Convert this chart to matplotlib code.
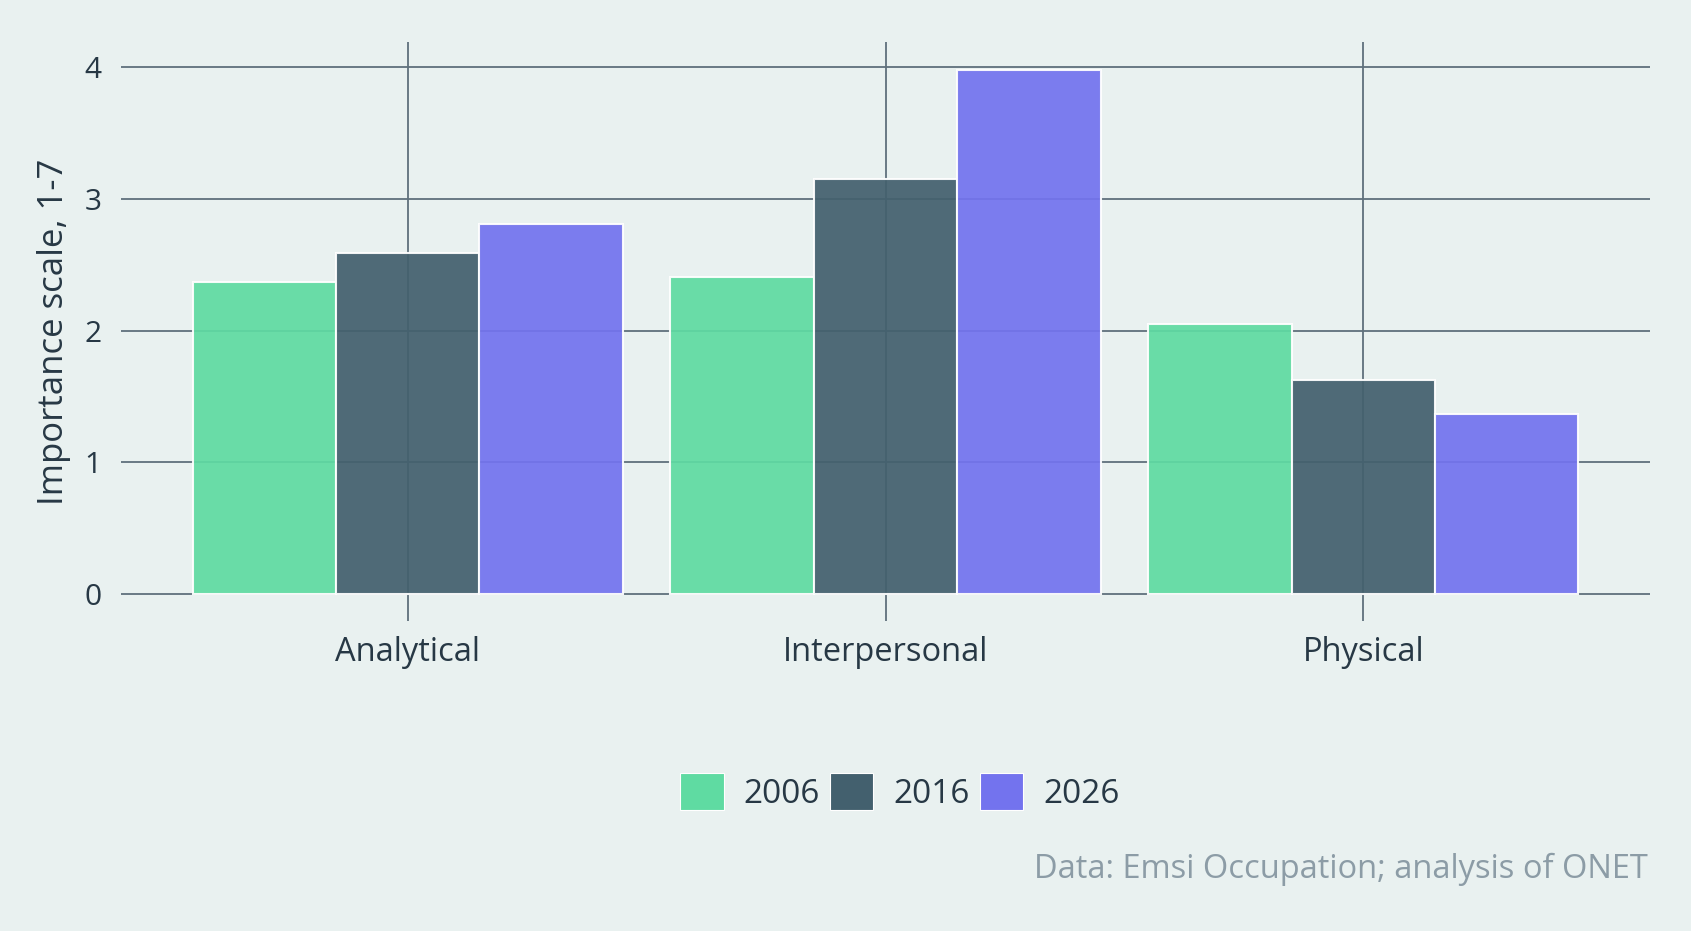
import matplotlib
matplotlib.use("Agg")
import matplotlib.pyplot as plt
import numpy as np
from matplotlib.patches import Patch

categories = ["Analytical", "Interpersonal", "Physical"]
years = ["2006", "2016", "2026"]
values_2006 = [2.37, 2.41, 2.05]
values_2016 = [2.59, 3.15, 1.63]
values_2026 = [2.81, 3.98, 1.37]
y_ticks = [0, 1, 2, 3, 4]
ylabel = "Importance scale, 1-7"
caption = "Data: Emsi Occupation; analysis of ONET"

colors = ["#5fdba2", "#43606e", "#7373ee"]
bg = "#e9f1f0"
grid_c = "#5f707c"
text_c = "#273845"

plt.rcParams['font.family'] = ['Open Sans', 'DejaVu Sans']

fig = plt.figure(figsize=(16.91, 9.31), dpi=100, facecolor=bg)
ax = fig.add_axes([121/1691, 1-620.5/931, (1650-121)/1691, (620.5-42.4)/931])
ax.set_facecolor(bg)

x = np.arange(len(categories))
w = 0.3
series = [values_2006, values_2016, values_2026]
for i, (vals, c) in enumerate(zip(series, colors)):
    ax.bar(x + (i-1)*w, vals, width=w, color=c, alpha=0.93, edgecolor="white",
           linewidth=1.5, zorder=3)

ax.set_xlim(-0.6, 2.6)
ax.set_ylim(-0.2, 4.19)
ax.set_yticks(y_ticks)
ax.set_xticks(x)
ax.set_xticklabels(categories)
ax.grid(True, color=grid_c, linewidth=1.3, zorder=1)
ax.set_axisbelow(True)
for s in ax.spines.values():
    s.set_visible(False)
ax.tick_params(axis='both', length=0, colors=text_c)
ax.tick_params(axis='y', pad=14, labelsize=21.5)
ax.tick_params(axis='x', pad=11, labelsize=23.5)
ax.set_ylabel(ylabel, fontsize=25, color=text_c, labelpad=10)

handles = [Patch(facecolor=c, edgecolor="white", linewidth=0.8) for c in colors]
fig.legend(handles, years, loc="center", bbox_to_anchor=(900/1691, 1-792/931),
           ncol=3, frameon=False, fontsize=24, handlelength=1.3, handleheight=1.3,
           handletextpad=0.6, columnspacing=0.3, labelcolor=text_c)

fig.text(1648/1691, 1-869/931, caption, ha="right", va="center", fontsize=23.5,
         color="#8c9ca6")

fig.savefig("out.png", dpi=100, facecolor=bg)
